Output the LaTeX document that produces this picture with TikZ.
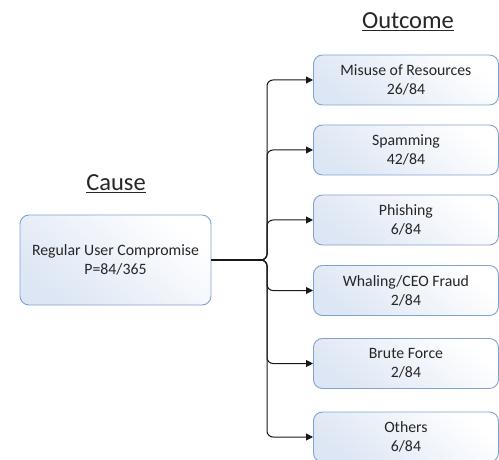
\documentclass[tikz,border=0pt]{standalone}
\usepackage{fontspec}
\setmainfont{Carlito}
\usetikzlibrary{arrows.meta}
\definecolor{boxline}{HTML}{7FA3D1}
\definecolor{boxfill}{HTML}{DDE6F4}
\definecolor{ink}{HTML}{262626}
\tikzset{
  card/.style={draw=boxline, line width=0.9pt, rounded corners=9pt,
    left color=white, right color=boxfill, shading angle=-40,
    align=center, text=ink, font=\fontsize{15.8}{19}\selectfont,
    inner sep=0pt},
  outbox/.style={card, minimum width=185pt, minimum height=50pt},
  heading/.style={text=ink, font=\fontsize{24.5}{27}\selectfont},
  link/.style={line width=1pt, draw=black!90, rounded corners=6pt,
    -{Triangle[length=7pt,width=7pt]}},
}
\begin{document}
\begin{tikzpicture}[x=1pt,y=-1pt]
  \useasboundingbox (0,0) rectangle (499,460);

  % headings
  \node[heading] (hcause) at (116,184) {\underline{Cause}};
  \node[heading] (hout) at (408,22) {\underline{Outcome}};

  % cause box
  \node[card, minimum width=191pt, minimum height=90pt] (cause) at (115.5,260)
    {Regular User Compromise\\P=84/365};

  % outcome boxes
  \node[outbox, anchor=west] (o1) at (313,80) {Misuse of Resources\\26/84};
  \node[outbox, anchor=west] (o2) at (313,150) {Spamming\\42/84};
  \node[outbox, anchor=west] (o3) at (313,220) {Phishing\\6/84};
  \node[outbox, anchor=west] (o4) at (313,290.5) {Whaling/CEO Fraud\\2/84};
  \node[outbox, anchor=west] (o5) at (313,363.5) {Brute Force\\2/84};
  \node[outbox, anchor=west] (o6) at (313,437) {Others\\6/84};

  % junction where the cause line splits
  \coordinate (j) at (267,260);

  % trunk from the cause box, drawn a little heavier
  \draw[line width=1.6pt, draw=black!90] (cause.east) -- ([xshift=-6pt]j);

  \foreach \o in {o1,o2,o3,o4,o5,o6}
    \draw[link] (cause.east) -- (j) |- (\o.west);
\end{tikzpicture}
\end{document}
